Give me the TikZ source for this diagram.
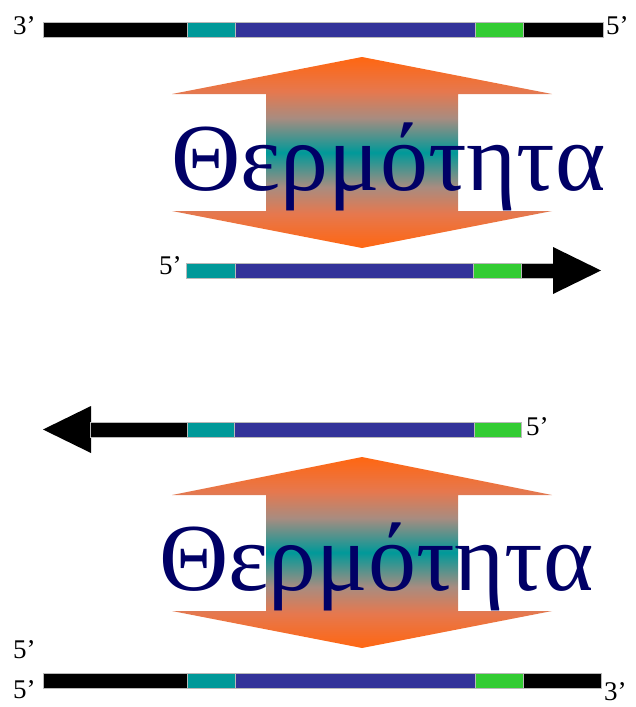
\documentclass[tikz,border=0pt]{standalone}
\usepackage{fontspec}
\setmainfont{Liberation Serif}
\definecolor{strandteal}{HTML}{009999}
\definecolor{strandblue}{HTML}{333399}
\definecolor{strandgreen}{HTML}{33CC33}
\definecolor{heatorange}{HTML}{FF6611}
\definecolor{heatsalmon}{HTML}{E6784E}
\definecolor{heatgrey}{HTML}{A88C80}
\definecolor{heatteal}{HTML}{009999}
\definecolor{wordnavy}{HTML}{000066}
\pgfdeclareverticalshading{heatshade}{100bp}{color(0bp)=(heatorange); color(25bp)=(heatorange); color(34bp)=(heatsalmon); color(41bp)=(heatgrey); color(50bp)=(heatteal); color(59bp)=(heatgrey); color(66bp)=(heatsalmon); color(75bp)=(heatorange); color(100bp)=(heatorange)}
\tikzset{
  seg/.style={draw=gray!55, line width=0.4pt},
  endlabel/.style={anchor=base west, inner sep=0pt, font=\fontsize{27}{27}\selectfont},
  heatword/.style={anchor=base west, inner sep=0pt, text=wordnavy, font=\fontsize{96}{96}\selectfont},
  heatarrow/.style={shading=heatshade}
}
\begin{document}
\begin{tikzpicture}[x=1pt, y=-1pt]
\useasboundingbox (0,0) rectangle (635,707);

% ---- template strand (top) ----
\fill[black, seg] (43,22) rectangle (187,37);
\fill[strandteal, seg] (187,22) rectangle (235,37);
\fill[strandblue, seg] (235,22) rectangle (475,37);
\fill[strandgreen, seg] (475,22) rectangle (523,37);
\fill[black, seg] (523,22) rectangle (603,37);
\node[endlabel] (t3) at (13,34) {3’};
\node[endlabel] (t5) at (606,34) {5’};

% ---- heat arrow (upper) ----
\shade[heatarrow] (362,57) -- (552,94) -- (458,94) -- (458,211) -- (552,211)
  -- (362,248) -- (172,211) -- (266,211) -- (266,94) -- (172,94) -- cycle;
\node[heatword] (heat1) at (171,190) {Θερμότητα};

% ---- newly made strand, extending to the right ----
\fill[strandteal, seg] (186,263) rectangle (235,278);
\fill[strandblue, seg] (235,263) rectangle (473,278);
\fill[strandgreen, seg] (473,263) rectangle (521,278);
\fill[black, seg] (521,263) rectangle (554,278);
\fill[black] (553,247) -- (601,270.5) -- (553,294) -- cycle;
\node[endlabel] (n5) at (159,274) {5’};

% ---- newly made strand, extending to the left ----
\fill[black] (43,429.5) -- (91,406) -- (91,453) -- cycle;
\fill[black, seg] (90,422) rectangle (187,437);
\fill[strandteal, seg] (187,422) rectangle (234,437);
\fill[strandblue, seg] (234,422) rectangle (474,437);
\fill[strandgreen, seg] (474,422) rectangle (521,437);
\node[endlabel] (m5) at (526,435) {5’};

% ---- heat arrow (lower) ----
\shade[heatarrow] (362,457) -- (552,495) -- (458,495) -- (458,611) -- (552,611)
  -- (362,648) -- (172,611) -- (266,611) -- (266,495) -- (172,495) -- cycle;
\node[heatword] (heat2) at (159,590) {Θερμότητα};

% ---- template strand (bottom) ----
\fill[black, seg] (43,673) rectangle (187,688);
\fill[strandteal, seg] (187,673) rectangle (235,688);
\fill[strandblue, seg] (235,673) rectangle (475,688);
\fill[strandgreen, seg] (475,673) rectangle (523,688);
\fill[black, seg] (523,673) rectangle (601,688);
\node[endlabel] (b5a) at (13,658) {5’};
\node[endlabel] (b5b) at (13,698) {5’};
\node[endlabel] (b3) at (604,700) {3’};
\end{tikzpicture}
\end{document}
